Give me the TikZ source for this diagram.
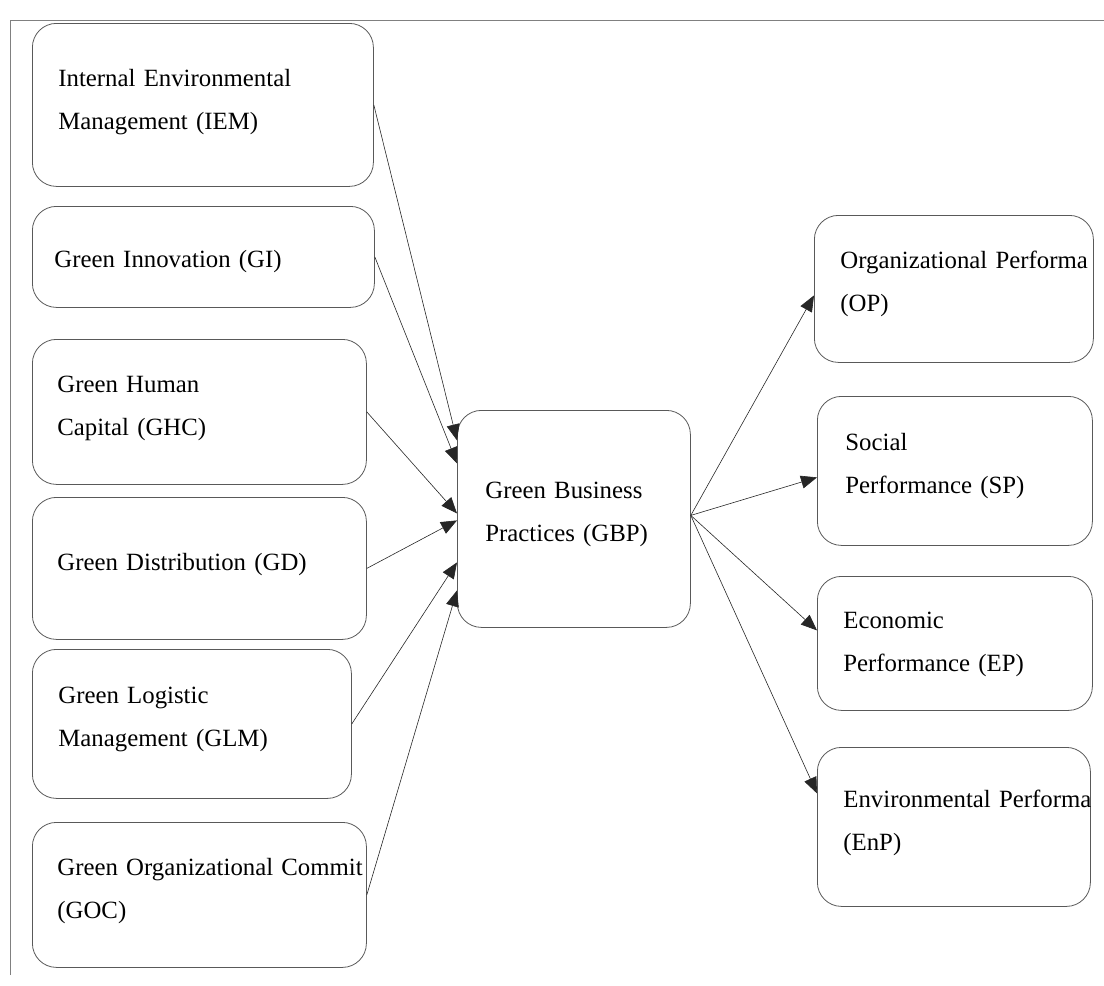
\documentclass[tikz,border=0pt]{standalone}
\usepackage{fontspec}
\setmainfont{Liberation Serif}
\usepackage{tikz}
\usetikzlibrary{arrows.meta}
\tikzset{
    factor-box/.style = {draw=black!65, line width=0.8pt, rectangle, rounded corners=24pt, anchor=north west, align=left, inner ysep=0pt, font=\fontsize{24.8}{43.5}\selectfont},
    link-arrow/.style = {draw=black!85, line width=0.6pt, -{Triangle[length=16pt, width=13pt]}},
    page-rule/.style = {draw=black!50, line width=1pt},
}

\begin{document}
\begin{tikzpicture}[x=1pt, y=-1pt]
\clip (0,0) rectangle (1104,986);
\draw[page-rule] (10,975) -- (10,20) -- (1104,20);

\node[factor-box, inner xsep=26pt, text width=289pt, text height=63pt, text depth=100pt] (iem) at (32,23) {Internal Environmental\\Management (IEM)};
\node[factor-box, inner xsep=22pt, text width=298pt, text height=61pt, text depth=40pt] (gi) at (32,206) {Green Innovation (GI)};
\node[factor-box, inner xsep=25pt, text width=284pt, text height=53pt, text depth=92pt] (ghc) at (32,339) {Green Human\\Capital (GHC)};
\node[factor-box, inner xsep=25pt, text width=284pt, text height=73pt, text depth=69pt] (gd) at (32,497) {Green Distribution (GD)};
\node[factor-box, inner xsep=26pt, text width=267pt, text height=54pt, text depth=95pt] (glm) at (32,649) {Green Logistic\\Management (GLM)};
\node[factor-box, inner xsep=25pt, text width=284pt, text height=53pt, text depth=92pt] (goc) at (32,822) {\mbox{Green Organizational Commit}\\(GOC)};

\node[factor-box, inner xsep=28pt, text width=177pt, text height=88pt, text depth=129pt] (gbp) at (457,410) {Green Business\\Practices (GBP)};

\node[factor-box, inner xsep=26pt, text width=227pt, text height=53pt, text depth=94pt] (op) at (814,215) {\mbox{Organizational Performa}\\(OP)};
\node[factor-box, inner xsep=28pt, text width=219pt, text height=54pt, text depth=95pt] (sp) at (817,396) {Social\\Performance (SP)};
\node[factor-box, inner xsep=26pt, text width=223pt, text height=52pt, text depth=82pt] (ep) at (817,576) {Economic\\Performance (EP)};
\node[factor-box, inner xsep=26pt, text width=221pt, text height=60pt, text depth=99pt] (enp) at (817,747) {\mbox{Environmental Performa}\\(EnP)};

\draw[link-arrow] (iem.east) -- ([yshift=78.5pt]gbp.west);
\draw[link-arrow] (gi.east) -- ([yshift=55.5pt]gbp.west);
\draw[link-arrow] (ghc.east) -- ([yshift=5.5pt]gbp.west);
\draw[link-arrow] (gd.east) -- ([yshift=-1.5pt]gbp.west);
\draw[link-arrow] (glm.east) -- ([yshift=-43.5pt]gbp.west);
\draw[link-arrow] (goc.east) -- ([yshift=-71.5pt]gbp.west);

\draw[link-arrow] ([yshift=3.5pt]gbp.east) -- ([yshift=-6.5pt]op.west);
\draw[link-arrow] ([yshift=3.5pt]gbp.east) -- ([yshift=-6.5pt]sp.west);
\draw[link-arrow] ([yshift=3.5pt]gbp.east) -- ([yshift=13pt]ep.west);
\draw[link-arrow] ([yshift=3.5pt]gbp.east) -- ([yshift=33.5pt]enp.west);
\end{tikzpicture}
\end{document}
